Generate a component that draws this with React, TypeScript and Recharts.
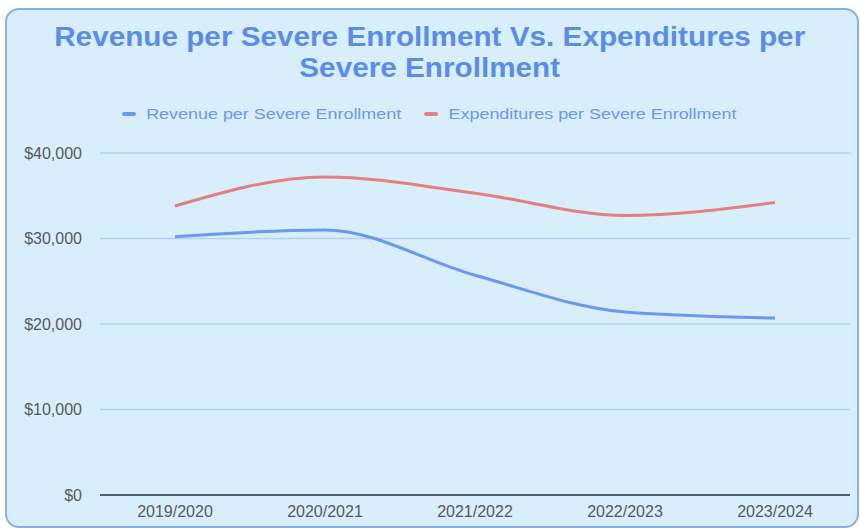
import { LineChart, Line, XAxis, YAxis, CartesianGrid } from "recharts";

const years = ["2019/2020", "2020/2021", "2021/2022", "2022/2023", "2023/2024"];
const revenue = [30200, 31000, 25700, 21400, 20700];
const expenditures = [33800, 37200, 35300, 32700, 34200];
const yTicks = [0, 10000, 20000, 30000, 40000];

const data = years.map((year, i) => ({
  year,
  revenue: revenue[i],
  expenditures: expenditures[i]
}));

const BLUE = "#6b97ee";
const RED = "#e47f7f";

const money = (v: number) => "$" + v.toLocaleString("en-US");

const App = () => {
  return (
    <div
      style={{
        position: "absolute",
        left: 0,
        top: 0,
        width: 860,
        height: 529,
        background: "#ffffff",
        fontFamily: "'Liberation Sans', Arial, sans-serif"
      }}
    >
      <div
        style={{
          position: "absolute",
          left: 5,
          top: 8,
          width: 850,
          height: 516,
          border: "2px solid #86b0ea",
          borderRadius: 14,
          background: "#d8eefb"
        }}
      />
      <div
        style={{
          position: "absolute",
          left: 0,
          top: 22,
          width: 860,
          textAlign: "center",
          color: "#5a8de6",
          fontSize: 27,
          fontWeight: "bold",
          lineHeight: "31px",
          transform: "scaleX(1.1)",
          transformOrigin: "433px 0"
        }}
      >
        Revenue per Severe Enrollment Vs. Expenditures per
        <br />
        Severe Enrollment
      </div>
      <div
        style={{
          position: "absolute",
          left: 0,
          top: 106,
          width: 860,
          display: "flex",
          justifyContent: "center",
          gap: 18,
          fontSize: 14,
          color: "#6b97ee",
          transform: "scaleX(1.28)",
          transformOrigin: "433px 0"
        }}
      >
        <span style={{ display: "flex", alignItems: "center", gap: 8 }}>
          <span style={{ width: 11, height: 4, background: BLUE, borderRadius: 2 }} />
          Revenue per Severe Enrollment
        </span>
        <span style={{ display: "flex", alignItems: "center", gap: 8 }}>
          <span style={{ width: 11, height: 4, background: RED, borderRadius: 2 }} />
          Expenditures per Severe Enrollment
        </span>
      </div>
      <div style={{ position: "absolute", left: 0, top: 0 }}>
        <LineChart
          width={860}
          height={529}
          data={data}
          margin={{ top: 153, right: 10, bottom: 0, left: 10 }}
        >
          <CartesianGrid
            vertical={false}
            stroke="#b3d2f0"
            strokeWidth={1.5}
          />
          <XAxis
            dataKey="year"
            padding={{ left: 75, right: 75 }}
            axisLine={{ stroke: "#2e3440", strokeWidth: 1.5 }}
            tickLine={false}
            tick={{ fill: "#555a60", fontSize: 16 }}
            tickMargin={5}
            height={34}
          />
          <YAxis
            domain={[0, 40000]}
            ticks={yTicks}
            tickFormatter={money}
            axisLine={false}
            tickLine={false}
            tick={{ fill: "#555a60", fontSize: 16 }}
            width={90}
            tickMargin={12}
          />
          <Line
            type="monotone"
            dataKey="revenue"
            stroke={BLUE}
            strokeWidth={3}
            dot={false}
            isAnimationActive={false}
          />
          <Line
            type="monotone"
            dataKey="expenditures"
            stroke={RED}
            strokeWidth={3}
            dot={false}
            isAnimationActive={false}
          />
        </LineChart>
      </div>
    </div>
  );
};

export default App;
